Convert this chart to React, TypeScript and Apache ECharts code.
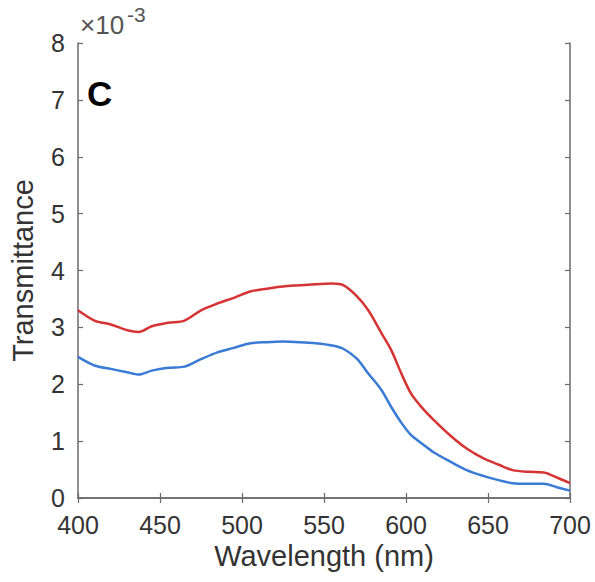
import React, { useEffect, useRef } from "react";
import * as echarts from "echarts";

const wavelengths = [400, 410, 420, 430, 437, 445, 455, 465, 475, 485, 495, 505, 515, 525, 535, 545, 555, 562, 570, 577, 585, 591, 597, 603, 610, 617, 627, 637, 647, 657, 665, 675, 684, 692, 700];
const redValues = [3.30, 3.12, 3.05, 2.95, 2.92, 3.02, 3.08, 3.12, 3.30, 3.42, 3.52, 3.63, 3.68, 3.72, 3.74, 3.76, 3.77, 3.74, 3.55, 3.30, 2.90, 2.60, 2.20, 1.84, 1.58, 1.37, 1.10, 0.87, 0.70, 0.58, 0.49, 0.46, 0.45, 0.36, 0.26];
const blueValues = [2.48, 2.33, 2.27, 2.21, 2.17, 2.24, 2.29, 2.31, 2.44, 2.56, 2.64, 2.72, 2.74, 2.75, 2.74, 2.72, 2.68, 2.62, 2.45, 2.19, 1.90, 1.60, 1.33, 1.11, 0.95, 0.80, 0.64, 0.49, 0.39, 0.31, 0.26, 0.25, 0.25, 0.19, 0.13];
const xTicks = { min: 400, max: 700, interval: 50 };
const yTicks = { min: 0, max: 8, interval: 1 };

const FONT = "'Liberation Sans', Arial, sans-serif";
const AXIS_COLOR = "#6b6b6b";
const LABEL_COLOR = "#333";

export default function App() {
  const ref = useRef<HTMLDivElement>(null);
  useEffect(() => {
    if (!ref.current) return;
    const chart = echarts.init(ref.current, null, { renderer: "svg" });
    const axisCommon = {
      axisLine: { show: true, lineStyle: { color: AXIS_COLOR, width: 1.5 } },
      axisTick: { show: true, inside: true, length: 5, lineStyle: { color: AXIS_COLOR, width: 1.2 } },
      splitLine: { show: false },
    };
    chart.setOption({
      animation: false,
      backgroundColor: "#fff",
      grid: { left: 76, right: 25, top: 43, bottom: 84 },
      xAxis: [
        {
          type: "value",
          ...xTicks,
          ...axisCommon,
          name: "Wavelength (nm)",
          nameLocation: "middle",
          nameGap: 40,
          nameTextStyle: { fontFamily: FONT, fontSize: 29, color: LABEL_COLOR },
          axisLabel: { fontFamily: FONT, fontSize: 25, color: LABEL_COLOR, margin: 14 },
        },
        {
          type: "value",
          position: "top",
          ...xTicks,
          ...axisCommon,
          axisLabel: { show: false },
        },
      ],
      yAxis: [
        {
          type: "value",
          ...yTicks,
          ...axisCommon,
          name: "Transmittance",
          nameLocation: "middle",
          nameGap: 41,
          nameTextStyle: { fontFamily: FONT, fontSize: 29, color: LABEL_COLOR },
          axisLabel: { fontFamily: FONT, fontSize: 25, color: LABEL_COLOR, margin: 13 },
        },
        {
          type: "value",
          position: "right",
          ...yTicks,
          ...axisCommon,
          axisLabel: { show: false },
        },
      ],
      graphic: [
        {
          type: "text",
          left: 80,
          top: 12,
          style: { text: "×10", fontFamily: FONT, fontSize: 26, fill: "#555" },
        },
        {
          type: "text",
          left: 127,
          top: 4,
          style: { text: "-3", fontFamily: FONT, fontSize: 21, fill: "#555" },
        },
        {
          type: "text",
          left: 87,
          top: 76,
          style: { text: "C", fontFamily: FONT, fontSize: 35, fill: "#000", fontWeight: "bold" },
        },
      ],
      series: [
        {
          type: "line",
          data: wavelengths.map((w, i) => [w, redValues[i]]),
          smooth: 0.3,
          symbol: "none",
          lineStyle: { color: "#d63434", width: 2.5 },
        },
        {
          type: "line",
          data: wavelengths.map((w, i) => [w, blueValues[i]]),
          smooth: 0.3,
          symbol: "none",
          lineStyle: { color: "#3a7bd5", width: 2.5 },
        },
      ],
    });
    return () => chart.dispose();
  }, []);
  return <div ref={ref} style={{ position: "fixed", left: 0, top: 0, width: 595, height: 582 }} />;
}
